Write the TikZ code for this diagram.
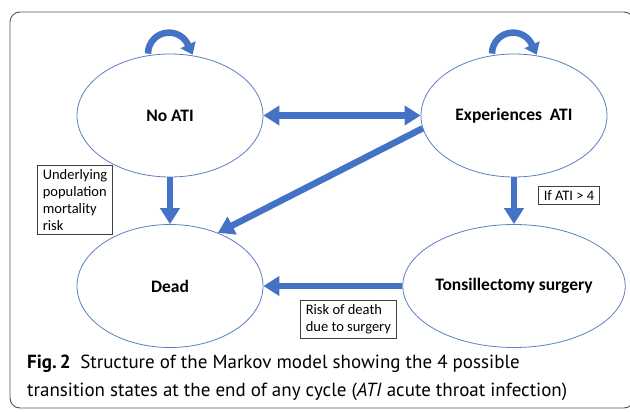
\documentclass[tikz,border=0pt]{standalone}
\usepackage{fontspec}
\setmainfont{Carlito}
\newfontfamily\capfont{PT Sans}
\usetikzlibrary{shapes.geometric,arrows.meta}

\definecolor{arrowblue}{HTML}{4472C4}
\definecolor{rimblue}{HTML}{5B7EC2}
\definecolor{framegray}{HTML}{555555}

\tikzset{
  state/.style={ellipse, draw=rimblue, line width=0.8pt, minimum width=186pt,
    minimum height=123pt, inner sep=0pt, font=\fontsize{17.5}{20}\selectfont\bfseries},
  flow/.style={draw=arrowblue, line width=6.5pt, -{Triangle[width=19pt,length=16pt]}},
  twoway/.style={flow, {Triangle[width=19pt,length=16pt]}-{Triangle[width=19pt,length=16pt]}},
  selfloop/.style={draw=arrowblue, line width=6.5pt, -{Triangle[width=16pt,length=11pt]}},
  note/.style={draw=black!75, line width=0.6pt, anchor=north west, align=left,
    inner xsep=5.5pt, inner ysep=4pt, font=\fontsize{14.5}{17}\selectfont},
}

\begin{document}
\begin{tikzpicture}[x=1pt,y=-1pt]
  % Tunables
  \def\lx{170}     % x centre of the left states
  \def\rx{514}     % x centre of the right states
  \def\ty{115.5}   % y centre of the top row
  \def\by{286}     % y centre of the bottom row

  \clip (0,0) rectangle (630,412);
  \draw[framegray, line width=0.9pt, rounded corners=10pt] (10,12) rectangle (634,408);

  % States
  \node[state] (noati)  at (\lx,\ty) {No ATI};
  \node[state] (expati) at (\rx,\ty) {Experiences\ \ ATI};
  \node[state] (dead)   at (\lx,\by) {Dead};
  \node[state] (tonsil) at (\rx,\by) {Tonsillectomy surgery};

  % Transitions
  \draw[selfloop] ([xshift=-22pt]noati.north) arc[start angle=180, end angle=335, radius=21] -- ++(4.6,10);
  \draw[selfloop] ([xshift=-22pt]expati.north) arc[start angle=180, end angle=335, radius=21] -- ++(4.6,10);
  \draw[twoway] (noati) -- (expati);
  \draw[flow] (noati) -- (dead);
  \draw[flow] (expati) -- (tonsil);
  \draw[flow] (expati.188) -- (dead.48);
  \draw[flow] (tonsil) -- (dead);

  % Notes on the transitions
  \node[note] (mortality) at (37,165) {Underlying\\population\\mortality\\risk};
  \node[note] (threshold) at (538,186) {If ATI > 4};
  \node[note] (surgrisk)  at (300,300) {Risk of death\\due to surgery};

  % Caption
  \node[anchor=north west, align=left, inner sep=0pt, font=\capfont\fontsize{19}{28}\selectfont]
    (caption) at (27,355) {\textbf{Fig.\,2}\enspace Structure of the Markov model showing the 4 possible\\
    transition states at the end of any cycle (\textit{ATI} acute throat infection)};
\end{tikzpicture}
\end{document}
